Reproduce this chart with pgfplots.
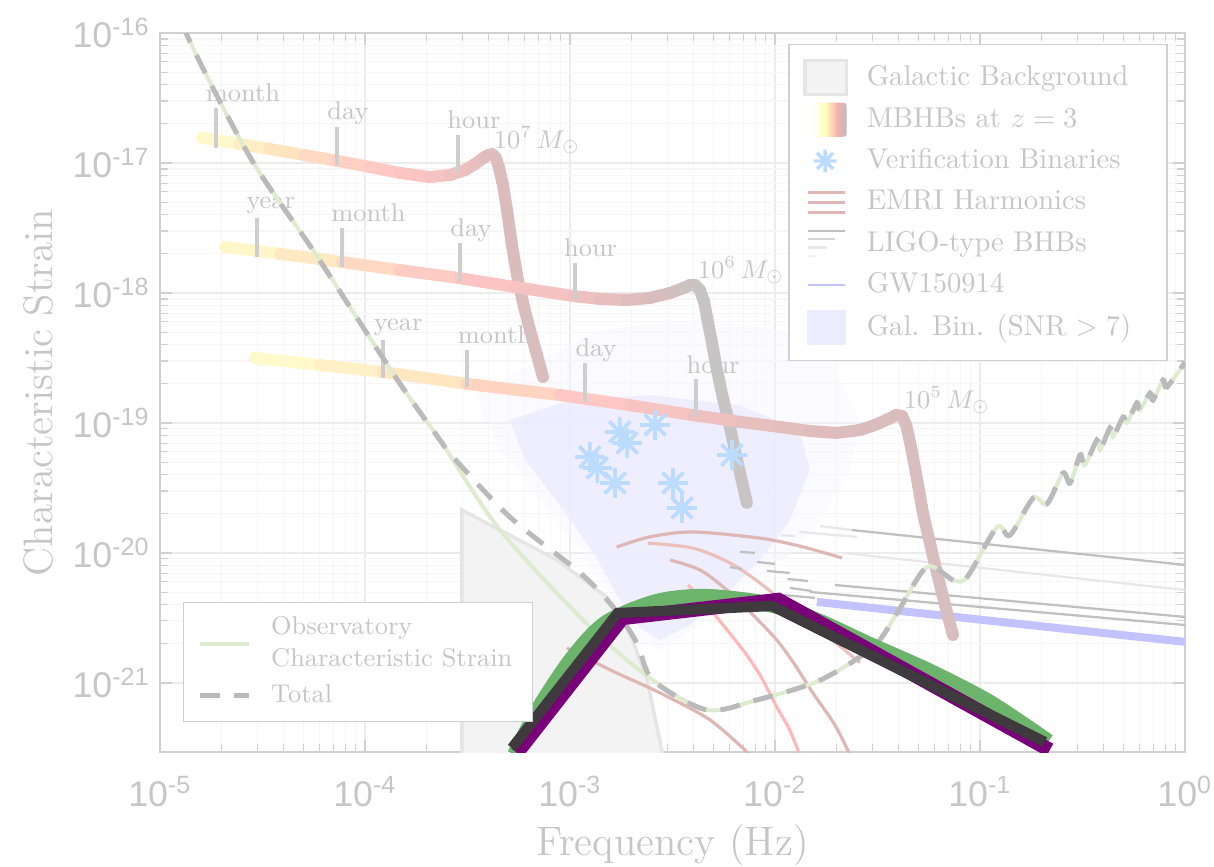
\documentclass[border=0pt]{standalone}
\usepackage{fontspec}
\usepackage{pgfplots}
\pgfplotsset{compat=1.18}
\usetikzlibrary{calc}

\newfontfamily\ticksans{Liberation Sans}

\definecolor{textgray}{RGB}{198,198,198}
\definecolor{axisgray}{RGB}{208,208,208}
\definecolor{gridmajor}{RGB}{236,236,236}
\definecolor{gridminor}{RGB}{246,246,246}
\definecolor{obsgreen}{RGB}{221,236,207}
\definecolor{totalgray}{RGB}{186,186,186}
\definecolor{galbgfill}{RGB}{243,243,243}
\definecolor{galbgdraw}{RGB}{229,229,229}
\definecolor{galbinout}{RGB}{244,244,255}
\definecolor{galbinin}{RGB}{236,236,255}
\definecolor{vbblue}{RGB}{188,220,255}
\definecolor{emri}{RGB}{222,182,180}
\definecolor{emribright}{RGB}{255,184,184}
\definecolor{emrilight}{RGB}{236,192,186}
\definecolor{ligodark}{RGB}{192,192,192}
\definecolor{ligomid}{RGB}{214,214,214}
\definecolor{ligolight}{RGB}{232,232,232}
\definecolor{gwblue}{RGB}{194,194,255}
\definecolor{timebar}{RGB}{206,206,206}
\definecolor{bandgreen}{RGB}{108,180,108}
\definecolor{bandpurple}{RGB}{122,0,122}
\definecolor{banddark}{RGB}{62,58,62}
\definecolor{mbhbyellow}{RGB}{255,250,185}
\definecolor{mbhbpink}{RGB}{245,175,175}
\definecolor{mbhbgray}{RGB}{192,188,188}

% legend swatch for the MBHB tracks
\pgfdeclarehorizontalshading{mbhbshade}{100bp}{color(0bp)=(white); color(25bp)=(white);
  color(45bp)=(mbhbyellow); color(62bp)=(mbhbpink); color(75bp)=(mbhbgray); color(100bp)=(mbhbgray)}

% eight-armed asterisk for the verification binaries
\pgfdeclareplotmark{star8}{%
  \pgfpathmoveto{\pgfqpoint{-\pgfplotmarksize}{0pt}}\pgfpathlineto{\pgfqpoint{\pgfplotmarksize}{0pt}}%
  \pgfpathmoveto{\pgfqpoint{0pt}{-\pgfplotmarksize}}\pgfpathlineto{\pgfqpoint{0pt}{\pgfplotmarksize}}%
  \pgfpathmoveto{\pgfqpoint{-.7071\pgfplotmarksize}{-.7071\pgfplotmarksize}}\pgfpathlineto{\pgfqpoint{.7071\pgfplotmarksize}{.7071\pgfplotmarksize}}%
  \pgfpathmoveto{\pgfqpoint{-.7071\pgfplotmarksize}{.7071\pgfplotmarksize}}\pgfpathlineto{\pgfqpoint{.7071\pgfplotmarksize}{-.7071\pgfplotmarksize}}%
  \pgfusepathqstroke}

\begin{document}
\begin{tikzpicture}
\begin{axis}[
  name=main,
  scale only axis, width=358.75pt, height=251.65pt,
  xmode=log, ymode=log,
  xmin=1e-5, xmax=1, ymin=2.94e-22, ymax=1e-16,
  axis line style={axisgray},
  every tick/.style={axisgray},
  tick align=inside,
  xtick={1e-5,1e-4,1e-3,1e-2,1e-1,1},
  xticklabels={10\textsuperscript{-5},10\textsuperscript{-4},10\textsuperscript{-3},10\textsuperscript{-2},10\textsuperscript{-1},10\textsuperscript{0}},
  ytick={1e-21,1e-20,1e-19,1e-18,1e-17,1e-16},
  yticklabels={10\textsuperscript{-21},10\textsuperscript{-20},10\textsuperscript{-19},10\textsuperscript{-18},10\textsuperscript{-17},10\textsuperscript{-16}},
  tick label style={font=\ticksans\fontsize{12.5}{14}\selectfont, text=textgray},
  xticklabel style={yshift=-5pt},
  grid=both, major grid style={gridmajor}, minor grid style={gridminor},
  xlabel={Frequency (Hz)}, ylabel={Characteristic Strain},
  xlabel style={at={(axis description cs:0.5,-0.129)}, anchor=center, font=\Large, text=textgray},
  ylabel style={at={(axis description cs:-0.119,0.5)}, anchor=center, font=\Large, text=textgray},
  legend cell align=left,
  legend style={at={(0.983,0.985)}, anchor=north east, draw=axisgray, fill=white,
    font=\normalsize, text=textgray, row sep=2pt, inner xsep=5pt, inner ysep=5pt,
    /tikz/every odd column/.append style={column sep=4.5pt}},
  colormap={mbhb}{rgb255(0cm)=(255,253,205); rgb255(1cm)=(255,228,192); rgb255(2cm)=(255,198,196); rgb255(3cm)=(220,188,188); rgb255(4cm)=(200,196,196)},
  point meta min=0, point meta max=1,
]

% ---- legend entries ----
\addlegendimage{legend image code/.code={
  \draw[fill=galbgfill, draw=galbgdraw, line width=1.2pt] (0pt,-6pt) rectangle (14.5pt,6pt);}}
\addlegendentry{Galactic Background}
\addlegendimage{legend image code/.code={
  \shade[shading=mbhbshade, draw=none, rounded corners=1pt] (2.5pt,-6pt) rectangle (14.5pt,6pt);}}
\addlegendentry{MBHBs at $z=3$}
\addlegendimage{legend image code/.code={
  \draw[vbblue, line width=1.2pt] (3pt,0pt) -- (11pt,0pt) (7pt,-4pt) -- (7pt,4pt)
    (4.2pt,-2.8pt) -- (9.8pt,2.8pt) (4.2pt,2.8pt) -- (9.8pt,-2.8pt);}}
\addlegendentry{Verification Binaries}
\addlegendimage{legend image code/.code={
  \draw[emri, line width=1.2pt] (1pt,3.5pt) -- (14pt,3.5pt) (1pt,0pt) -- (14pt,0pt) (1pt,-3.5pt) -- (14pt,-3.5pt);}}
\addlegendentry{EMRI Harmonics}
\addlegendimage{legend image code/.code={
  \draw[ligodark, line width=0.8pt] (1pt,4.4pt) -- (14pt,4.4pt);
  \draw[ligomid, line width=0.8pt] (1pt,1.5pt) -- (10.5pt,1.5pt);
  \draw[ligolight, line width=0.8pt] (1pt,-1.4pt) -- (7.5pt,-1.4pt);
  \draw[ligolight!60, line width=0.8pt] (1pt,-4.3pt) -- (4.3pt,-4.3pt);}}
\addlegendentry{LIGO-type BHBs}
\addlegendimage{legend image code/.code={
  \draw[gwblue, line width=1pt] (1pt,0pt) -- (14pt,0pt);}}
\addlegendentry{GW150914}
\addlegendimage{legend image code/.code={
  \fill[galbinin] (1pt,-6pt) rectangle (14pt,6pt);}}
\addlegendentry{Gal. Bin. (SNR $>7$)\hspace*{5.5pt}}

% ---- galactic confusion background ----
\addplot[fill=galbgfill, draw=galbgdraw, line width=1.2pt, forget plot] coordinates {
  (2.97e-4,1e-22) (2.97e-4,2.14e-20) (4.56e-4,1.50e-20) (8.65e-4,8.83e-21)
  (1.51e-3,4.59e-21) (1.96e-3,2.43e-21) (2.38e-3,1.05e-21) (2.81e-3,3.0e-22) (2.90e-3,1e-22)};

% ---- resolved galactic binaries (SNR > 7) ----
\addplot[fill=galbinout, fill opacity=0.45, draw=none, forget plot] coordinates {
  (3.44e-4,1.64e-19) (5.70e-4,2.56e-19) (1.40e-3,5.19e-19) (4.31e-3,6.20e-19)
  (1.06e-2,5.19e-19) (1.85e-2,3.05e-19) (2.60e-2,1.05e-19) (2.32e-2,4.35e-20)
  (1.66e-2,1.79e-20) (1.18e-2,9.66e-21) (6.75e-3,5.19e-21) (4.31e-3,2.79e-21)
  (2.75e-3,1.79e-21) (2.19e-3,2.14e-21) (1.57e-3,4.35e-21) (1.12e-3,1.05e-20)
  (7.14e-4,2.56e-20) (4.56e-4,6.20e-20) (3.44e-4,1.64e-19)};
\addplot[fill=galbinin, fill opacity=0.85, draw=none, forget plot] coordinates {
  (5.09e-4,1.05e-19) (1.00e-3,1.50e-19) (2.45e-3,1.64e-19) (6.75e-3,1.37e-19)
  (1.32e-2,8.83e-20) (1.48e-2,4.35e-20) (1.18e-2,1.79e-20) (8.45e-3,8.83e-21)
  (5.40e-3,4.35e-21) (3.85e-3,2.79e-21) (2.75e-3,2.14e-21) (2.19e-3,2.65e-21)
  (1.75e-3,4.35e-21) (1.32e-3,9.66e-21) (8.93e-4,2.34e-20) (6.03e-4,5.19e-20) (5.09e-4,1.05e-19)};

% ---- EMRI harmonics ----
\addplot[emri, line width=1.1pt, smooth, forget plot] coordinates {
  (1.69e-3,1.11e-20) (2.45e-3,1.33e-20) (3.98e-3,1.45e-20) (8.45e-3,1.30e-20) (1.32e-2,1.13e-20) (2.12e-2,9.16e-21)};
\addplot[emrilight, line width=1.1pt, smooth, forget plot] coordinates {
  (2.40e-3,1.19e-20) (3.98e-3,1.09e-20) (6.03e-3,8.38e-21) (8.45e-3,5.87e-21) (1.23e-2,3.65e-21) (1.85e-2,2.22e-21) (2.60e-2,1.43e-21)};
\addplot[emri, line width=1.1pt, smooth, forget plot] coordinates {
  (3.08e-3,8.83e-21) (4.31e-3,7.40e-21) (5.83e-3,5.19e-21) (7.55e-3,3.52e-21) (1.02e-2,2.14e-21) (1.25e-2,1.38e-21) (1.53e-2,8.38e-22) (1.96e-2,4.75e-22) (2.32e-2,2.80e-22)};
\addplot[emribright, line width=1.1pt, smooth, forget plot] coordinates {
  (3.77e-3,5.67e-21) (5.09e-3,3.33e-21) (6.98e-3,1.79e-21) (8.45e-3,1.15e-21) (1.02e-2,6.53e-22) (1.18e-2,4.35e-22) (1.32e-2,2.80e-22)};
\addplot[emri, line width=1.1pt, smooth, forget plot] coordinates {
  (9.66e-4,1.86e-21) (1.57e-3,1.26e-21) (2.75e-3,8.38e-22) (4.82e-3,5.19e-22) (7.55e-3,2.80e-22)};

% ---- LIGO-type black hole binaries ----
\addplot[ligolight, line width=0.8pt, unbounded coords=jump, forget plot] coordinates {
  (1.66e-2,1.61e-20) (2.38e-2,1.50e-20) (2.38e-2,nan)
  (2.15e-2,1.00e-20) (1,5.19e-21) (1,nan)
  (1.32e-2,1.45e-20) (2.51e-2,1.33e-20) (2.51e-2,nan)
  (1.06e-2,1.37e-20) (1.25e-2,1.35e-20)};
\addplot[ligodark, line width=0.8pt, unbounded coords=jump, forget plot] coordinates {
  (2.38e-2,1.50e-20) (1,8.09e-21) (1,nan)
  (1.96e-2,5.67e-21) (1,3.22e-21) (1,nan)
  (1.48e-2,5.01e-21) (1,2.79e-21) (1,nan)
  (6.75e-3,1.02e-20) (7.98e-3,1.00e-20) (7.98e-3,nan)
  (8.17e-3,8.53e-21) (1.00e-2,8.23e-21) (1.00e-2,nan)
  (9.14e-3,7.28e-21) (1.18e-2,7.02e-21) (1.18e-2,nan)
  (1.15e-2,6.31e-21) (1.45e-2,6.09e-21) (1.45e-2,nan)
  (1.18e-2,5.38e-21) (1.51e-2,5.10e-21) (1.51e-2,nan)
  (1.09e-2,4.75e-21) (1.57e-2,4.51e-21) (1.57e-2,nan)
  (6.03e-3,7.80e-21) (6.90e-3,7.53e-21)};

% ---- GW150914 ----
\addplot[gwblue, line width=2.8pt, forget plot] coordinates {(1.60e-2,4.20e-21) (1,2.07e-21)};

% ---- verification binaries ----
\addplot[only marks, mark=star8, mark size=5.2pt, mark options={vbblue, line width=1.3pt}, forget plot] coordinates {
  (1.75e-3,8.53e-20) (1.90e-3,7.02e-20) (2.60e-3,9.66e-20) (1.25e-3,5.47e-20) (1.36e-3,4.51e-20)
  (1.66e-3,3.45e-20) (3.18e-3,3.45e-20) (3.52e-3,2.22e-20) (6.17e-3,5.67e-20)};

% ---- massive black hole binary tracks (colour runs along the track) ----
\addplot[mesh, line width=4.2pt, line cap=round, point meta=explicit, forget plot] table[meta=c] {
f h c
1.60e-5 1.56e-17 0
2.45e-5 1.40e-17 0.1
3.44e-5 1.28e-17 0.2
5.09e-5 1.15e-17 0.3
7.29e-5 1.04e-17 0.38
1.06e-4 9.31e-18 0.45
1.48e-4 8.38e-18 0.5
2.07e-4 7.80e-18 0.55
2.60e-4 8.09e-18 0.6
3.08e-4 8.83e-18 0.63
3.44e-4 9.82e-18 0.66
3.77e-4 1.09e-17 0.69
3.98e-4 1.15e-17 0.71
4.17e-4 1.17e-17 0.73
4.36e-4 1.09e-17 0.74
4.51e-4 9.16e-18 0.75
4.71e-4 6.78e-18 0.75
4.93e-4 4.35e-18 0.76
5.21e-4 2.34e-18 0.76
5.57e-4 1.26e-18 0.77
5.97e-4 7.80e-19 0.77
6.38e-4 5.19e-19 0.78
6.90e-4 3.33e-19 0.78
7.38e-4 2.26e-19 0.78
};
\addplot[mesh, line width=4.2pt, line cap=round, point meta=explicit, forget plot] table[meta=c] {
f h c
2.07e-5 2.26e-18 0
3.85e-5 2.00e-18 0.12
7.73e-5 1.73e-18 0.28
1.48e-4 1.50e-18 0.4
2.90e-4 1.30e-18 0.5
5.40e-4 1.11e-18 0.55
1.04e-3 9.48e-19 0.6
1.40e-3 8.99e-19 0.65
1.90e-3 8.83e-19 0.7
2.45e-3 9.16e-19 0.76
3.08e-3 1.00e-18 0.82
3.56e-3 1.09e-18 0.88
3.85e-3 1.15e-18 0.92
4.07e-3 1.15e-18 0.95
4.31e-3 1.05e-18 0.97
4.51e-3 8.53e-19 1
4.66e-3 6.53e-19 1
4.93e-3 4.12e-19 1
5.21e-3 2.56e-19 1
5.57e-3 1.56e-19 1
6.03e-3 9.31e-20 1
6.61e-3 4.75e-20 1
7.29e-3 2.43e-20 1
};
\addplot[mesh, line width=4.2pt, line cap=round, point meta=explicit, forget plot] table[meta=c] {
f h c
2.90e-5 3.16e-19 0
6.03e-5 2.79e-19 0.08
1.22e-4 2.47e-19 0.15
3.15e-4 2.00e-19 0.3
8.93e-4 1.64e-19 0.45
1.96e-3 1.37e-19 0.52
3.98e-3 1.15e-19 0.6
6.75e-3 1.02e-19 0.65
1.06e-2 9.31e-20 0.7
1.48e-2 8.67e-20 0.72
2.00e-2 8.38e-20 0.74
2.60e-2 8.83e-20 0.76
3.08e-2 9.66e-20 0.77
3.56e-2 1.07e-19 0.78
3.89e-2 1.15e-19 0.78
4.17e-2 1.13e-19 0.79
4.36e-2 9.66e-20 0.79
4.51e-2 7.67e-20 0.8
4.71e-2 5.47e-20 0.8
4.99e-2 3.33e-20 0.8
5.27e-2 2.03e-20 0.8
5.70e-2 1.19e-20 0.8
6.17e-2 7.02e-21 0.8
6.75e-2 3.98e-21 0.8
7.38e-2 2.34e-21 0.8
};

% ---- time-to-merger ticks on the tracks ----
\addplot[timebar, line width=1.4pt, unbounded coords=jump, forget plot] coordinates {
  (1.87e-5,2.65e-17) (1.87e-5,1.30e-17) (1.87e-5,nan)
  (7.29e-5,1.89e-17) (7.29e-5,9.66e-18) (7.29e-5,nan)
  (2.84e-4,1.64e-17) (2.84e-4,8.52e-18) (2.84e-4,nan)
  (2.97e-5,3.78e-18) (2.97e-5,1.89e-18) (2.97e-5,nan)
  (7.73e-5,3.16e-18) (7.73e-5,1.58e-18) (7.73e-5,nan)
  (2.90e-4,2.43e-18) (2.90e-4,1.22e-18) (2.90e-4,nan)
  (1.06e-3,1.70e-18) (1.06e-3,8.83e-19) (1.06e-3,nan)
  (1.22e-4,4.35e-19) (1.22e-4,2.22e-19) (1.22e-4,nan)
  (3.15e-4,3.65e-19) (3.15e-4,1.89e-19) (3.15e-4,nan)
  (1.18e-3,2.90e-19) (1.18e-3,1.45e-19) (1.18e-3,nan)
  (4.12e-3,2.18e-19) (4.12e-3,1.11e-19)};

\node[font=\small, text=textgray, inner sep=0pt] at (axis cs:2.54e-5,3.45e-17) {month};
\node[font=\small, text=textgray, inner sep=0pt] at (axis cs:8.26e-5,2.43e-17) {day};
\node[font=\small, text=textgray, inner sep=0pt] at (axis cs:3.40e-4,2.14e-17) {hour};
\node[font=\small, text=textgray, inner sep=0pt] at (axis cs:6.90e-4,1.50e-17) {$10^7\,M_\odot$};
\node[font=\small, text=textgray, inner sep=0pt] at (axis cs:3.47e-5,4.75e-18) {year};
\node[font=\small, text=textgray, inner sep=0pt] at (axis cs:1.04e-4,4.12e-18) {month};
\node[font=\small, text=textgray, inner sep=0pt] at (axis cs:3.29e-4,3.05e-18) {day};
\node[font=\small, text=textgray, inner sep=0pt] at (axis cs:1.26e-3,2.22e-18) {hour};
\node[font=\small, text=textgray, inner sep=0pt] at (axis cs:6.83e-3,1.50e-18) {$10^6\,M_\odot$};
\node[font=\small, text=textgray, inner sep=0pt] at (axis cs:1.45e-4,5.47e-19) {year};
\node[font=\small, text=textgray, inner sep=0pt] at (axis cs:4.31e-4,4.75e-19) {month};
\node[font=\small, text=textgray, inner sep=0pt] at (axis cs:1.34e-3,3.65e-19) {day};
\node[font=\small, text=textgray, inner sep=0pt] at (axis cs:4.99e-3,2.79e-19) {hour};
\node[font=\small, text=textgray, inner sep=0pt] at (axis cs:6.90e-2,1.50e-19) {$10^5\,M_\odot$};
\end{axis}

% ---- sensitivity curves and signal band, drawn over the sources ----
\begin{axis}[
  scale only axis, width=358.75pt, height=251.65pt,
  xmode=log, ymode=log,
  xmin=1e-5, xmax=1, ymin=2.94e-22, ymax=1e-16,
  hide axis,
  legend cell align=left,
  legend style={at={(0.022,0.042)}, anchor=south west, draw=axisgray, fill=white,
    font=\small, text=textgray, row sep=1pt, inner xsep=5pt, inner ysep=3pt,
    cells={align=left}, /tikz/every odd column/.append style={column sep=5pt}},
]
\addplot[obsgreen, line width=1.4pt, smooth] coordinates {
  (1.22e-5,2.14e-16) (1.34e-5,1.00e-16) (2.75e-5,1.11e-17) (5.57e-5,2.14e-18) (1.02e-4,4.92e-19)
  (1.53e-4,1.86e-19) (2.32e-4,7.40e-20) (4.56e-4,1.50e-20) (1.25e-3,2.70e-21) (2.54e-3,1.05e-21)
  (4.66e-3,6.20e-22) (8.17e-3,7.40e-22) (1.66e-2,1.05e-21) (3.01e-2,1.89e-21) (3.94e-2,3.45e-21)
  (5.51e-2,7.80e-21) (7.38e-2,6.20e-21) (8.65e-2,6.53e-21) (0.121,1.58e-20) (0.140,1.37e-20)
  (0.182,2.65e-20) (0.212,2.38e-20) (0.254,4.12e-20) (0.275,3.45e-20) (0.308,5.67e-20)
  (0.325,4.75e-20) (0.372,7.40e-20) (0.385,6.20e-20) (0.431,9.16e-20) (0.446,7.80e-20)
  (0.499,1.11e-19) (0.521,1.00e-19) (0.583,1.43e-19) (0.603,1.26e-19) (0.675,1.70e-19)
  (0.698,1.50e-19) (0.782,2.14e-19) (0.817,1.89e-19) (1.0,2.94e-19)};
\addlegendentry{Observatory\\Characteristic Strain}
\addplot[totalgray, line width=1.75pt, dash pattern=on 7pt off 5pt, smooth] coordinates {
  (1.22e-5,2.14e-16) (1.34e-5,1.00e-16) (2.75e-5,1.11e-17) (5.57e-5,2.14e-18) (1.02e-4,4.92e-19)
  (1.53e-4,1.86e-19) (2.32e-4,7.40e-20) (2.69e-4,5.47e-20) (5.09e-4,1.89e-20) (1.12e-3,7.02e-21)
  (1.62e-3,3.85e-21) (2.12e-3,2.03e-21) (2.54e-3,1.05e-21)
  (4.66e-3,6.20e-22) (8.17e-3,7.40e-22) (1.66e-2,1.05e-21) (3.01e-2,1.89e-21) (3.94e-2,3.45e-21)
  (5.51e-2,7.80e-21) (7.38e-2,6.20e-21) (8.65e-2,6.53e-21) (0.121,1.58e-20) (0.140,1.37e-20)
  (0.182,2.65e-20) (0.212,2.38e-20) (0.254,4.12e-20) (0.275,3.45e-20) (0.308,5.67e-20)
  (0.325,4.75e-20) (0.372,7.40e-20) (0.385,6.20e-20) (0.431,9.16e-20) (0.446,7.80e-20)
  (0.499,1.11e-19) (0.521,1.00e-19) (0.583,1.43e-19) (0.603,1.26e-19) (0.675,1.70e-19)
  (0.698,1.50e-19) (0.782,2.14e-19) (0.817,1.89e-19) (1.0,2.94e-19)};
\addlegendentry{Total}

\addplot[bandgreen, line width=5.6pt, smooth, forget plot] coordinates {
  (5.40e-4,2.8e-22) (7.14e-4,6.53e-22) (1.04e-3,1.58e-21) (1.51e-3,2.90e-21) (2.65e-3,4.20e-21)
  (4.66e-3,4.59e-21) (9.77e-3,3.98e-21) (1.66e-2,2.94e-21) (2.90e-2,1.96e-21) (5.70e-2,1.22e-21)
  (0.112,7.02e-22) (0.215,3.52e-22)};
\addplot[bandpurple, line width=5pt, line join=miter, forget plot] coordinates {
  (5.51e-4,2.9e-22) (1.80e-3,3.16e-21) (1.04e-2,4.35e-21) (0.219,3.05e-22)};
\addplot[banddark, line width=3.6pt, line join=miter, forget plot] coordinates {
  (5.21e-4,3.16e-22) (1.71e-3,3.45e-21) (9.66e-3,3.91e-21) (0.207,3.52e-22)};
\end{axis}

\pgfresetboundingbox
\path ($(main.south west)+(-56pt,-39.9pt)$) rectangle ($(main.north east)+(10.15pt,11.55pt)$);
\end{tikzpicture}
\end{document}
